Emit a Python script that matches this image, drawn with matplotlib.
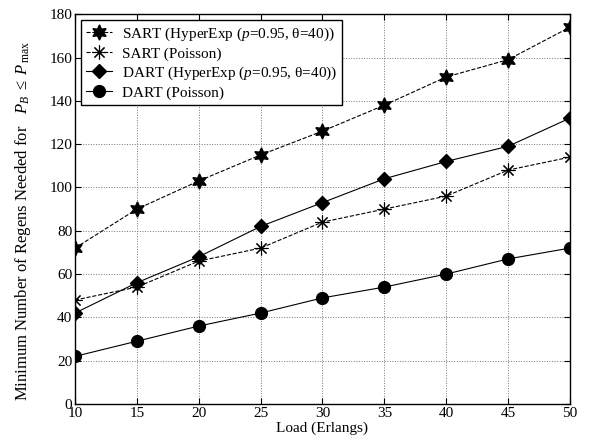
import matplotlib
matplotlib.use("Agg")
import matplotlib.pyplot as plt

load = [10, 15, 20, 25, 30, 35, 40, 45, 50]
sart_hyper = [72, 90, 103, 115, 126, 138, 151, 159, 174]
sart_poisson = [48, 54, 66, 72, 84, 90, 96, 108, 114]
dart_hyper = [42, 56, 68, 82, 93, 104, 112, 119, 132]
dart_poisson = [22, 29, 36, 42, 49, 54, 60, 67, 72]

plt.rcParams["font.family"] = ["Liberation Serif", "DejaVu Serif"]
plt.rcParams["mathtext.fontset"] = "custom"
plt.rcParams["mathtext.rm"] = "Liberation Serif"
plt.rcParams["mathtext.it"] = "Liberation Serif:italic"

fig = plt.figure(figsize=(5.92, 4.45), dpi=100)
ax = fig.add_axes([0.1267, 0.0921, 0.836, 0.876])

ax.plot(load, sart_hyper, "k--", lw=0.8, marker=(6, 1, 0), ms=11,
        label=r"SART (HyperExp ($p$=0.95, θ=40))")
ax.plot(load, sart_poisson, "k--", lw=0.8, marker=(8, 2, 0), ms=10,
        mew=0.8, label="SART (Poisson)")
ax.plot(load, dart_hyper, "k-", lw=0.8, marker="D", ms=7.5,
        label=r"DART (HyperExp ($p$=0.95, θ=40))")
ax.plot(load, dart_poisson, "k-", lw=0.8, marker="o", ms=8.5,
        label="DART (Poisson)")

ax.set_xlim(10, 50)
ax.set_ylim(0, 180)
ax.set_xticks(load)
ax.set_yticks(range(0, 181, 20))
ax.tick_params(direction="in", top=True, right=True, labelsize=11, pad=2,
               length=4)
ax.grid(True, linestyle=":", color="0.45", lw=0.7)
for s in ax.spines.values():
    s.set_linewidth(1.0)

ax.set_xlabel("Load (Erlangs)", fontsize=11, labelpad=1)
ax.set_ylabel(r"Minimum Number of Regens Needed for   $P_B\ \leq\ P_{\,\rm max}$",
              fontsize=12, labelpad=9)
ax.yaxis.set_label_coords(-0.085, 0.47)

leg = ax.legend(loc="upper left", fontsize=11, fancybox=False, framealpha=1,
                edgecolor="k", borderpad=0.35, labelspacing=0.25,
                handlelength=1.7, handletextpad=0.6, borderaxespad=0.4)
leg.get_frame().set_linewidth(1.0)

fig.savefig("out.png", dpi=100)
